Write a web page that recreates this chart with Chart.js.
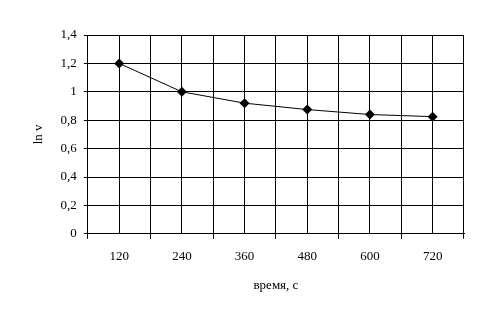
<!DOCTYPE html>
<html>
<head>
<meta charset="utf-8">
<script src="https://cdn.jsdelivr.net/npm/chart.js@4/dist/chart.umd.min.js"></script>
<style>
  html, body { margin: 0; padding: 0; background: #fff; }
  #wrap { width: 485px; height: 324px; }
</style>
</head>
<body>
<div id="wrap"><canvas id="chart"></canvas></div>
<script>
const times = ["120", "240", "360", "480", "600", "720"]
const lnV = [1.2, 1.0, 0.92, 0.875, 0.84, 0.825]

const font = { family: "'Liberation Serif', 'Times New Roman', serif", size: 13 }

new Chart(document.getElementById("chart"), {
    type: "line",
    data: {
        labels: times,
        datasets: [{
            data: lnV,
            borderColor: "#000",
            borderWidth: 1,
            backgroundColor: "#000",
            pointStyle: "rectRot",
            pointRadius: 5,
            pointBorderWidth: 0,
            tension: 0,
            xAxisID: "x"
        }]
    },
    options: {
        responsive: true,
        maintainAspectRatio: false,
        animation: false,
        layout: { padding: { top: 35, right: 21, left: 27, bottom: 27 } },
        plugins: { legend: { display: false }, tooltip: { enabled: false } },
        scales: {
            x: {
                type: "category",
                offset: true,
                grid: { offset: true, color: "#000", lineWidth: 1, tickLength: 5 },
                border: { color: "#000" },
                ticks: { color: "#000", font: font, padding: 10, maxRotation: 0 },
                title: { display: true, text: "время, с", color: "#000", font: font, padding: { top: 3 } }
            },
            x2: {
                type: "category",
                labels: times,
                offset: true,
                position: "bottom",
                grid: { offset: false, color: "#000", lineWidth: 1, drawTicks: false },
                border: { display: false },
                ticks: { display: false }
            },
            y: {
                min: 0,
                max: 1.4,
                grid: { color: "#000", lineWidth: 1, tickLength: 4 },
                border: { color: "#000" },
                ticks: {
                    stepSize: 0.2,
                    color: "#000",
                    font: font,
                    padding: 7,
                    callback: v => String(Math.round(v * 10) / 10).replace(".", ",")
                },
                title: { display: true, text: "ln v", color: "#000", font: font, padding: { bottom: 7 } }
            }
        }
    }
})
</script>
</body>
</html>
